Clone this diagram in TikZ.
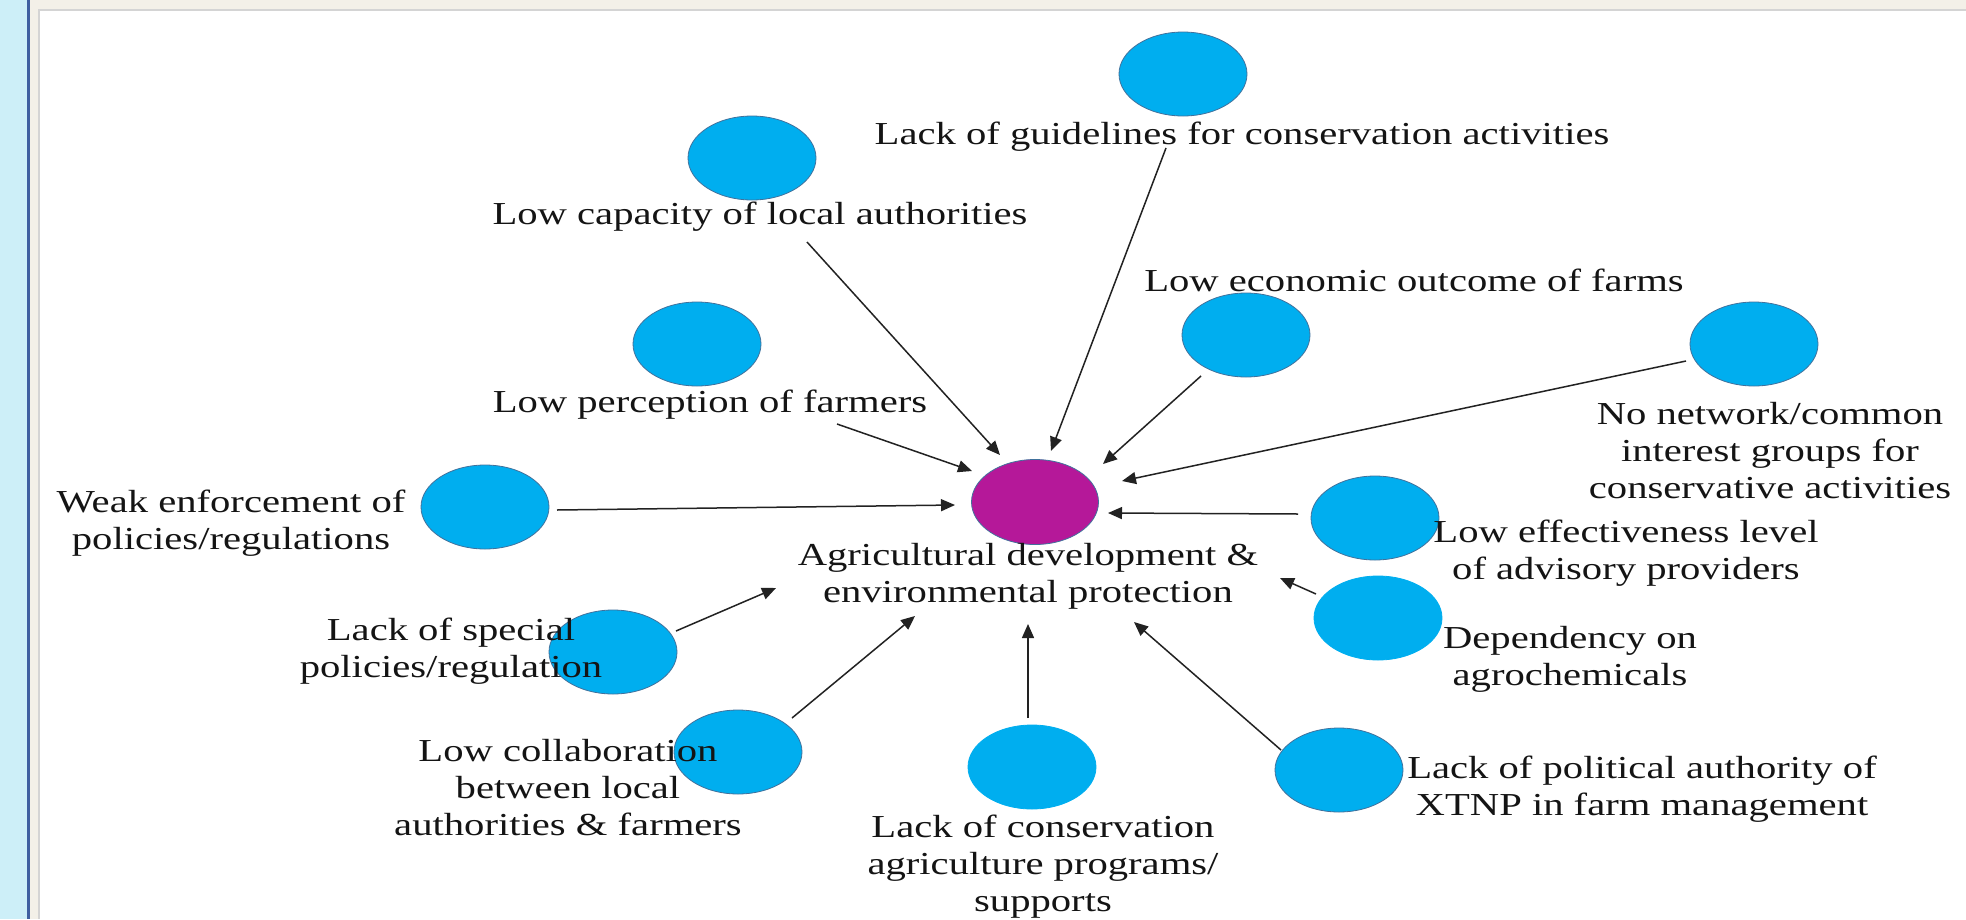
\documentclass[tikz,border=0pt]{standalone}
\usepackage{fontspec}
\setmainfont{Liberation Serif}[FakeStretch=1.27]
\usetikzlibrary{arrows.meta,shapes.geometric}

\definecolor{sidebar}{RGB}{205,239,248}
\definecolor{sideline}{RGB}{63,95,160}
\definecolor{paper}{RGB}{243,240,232}
\definecolor{rim}{RGB}{212,212,212}
\definecolor{bubblefill}{RGB}{0,174,239}
\definecolor{bubbleedge}{RGB}{65,113,156}
\definecolor{corefill}{RGB}{181,24,153}
\definecolor{ink}{RGB}{20,20,20}
\definecolor{arrowink}{RGB}{34,34,34}

\begin{document}
\begin{tikzpicture}[x=1pt,y=-1pt,
  bubble/.style={ellipse, minimum width=128pt, minimum height=84pt, inner sep=0pt,
    fill=bubblefill, draw=bubbleedge, line width=0.8pt},
  softbubble/.style={bubble, draw=bubblefill},
  core/.style={bubble, minimum width=127pt, minimum height=85pt, fill=corefill},
  caption/.style={align=center, inner sep=0pt, text=ink,
    font=\fontsize{32}{37}\selectfont},
  cause/.style={-{Triangle[length=14pt,width=12pt]}, line width=1.5pt, draw=arrowink}]

% page frame
\useasboundingbox (0,0) rectangle (1966,919);
\fill[sidebar] (0,0) rectangle (27,919);
\fill[sideline] (27,0) rectangle (30,919);
\fill[paper] (30,0) rectangle (1966,919);
\fill[rim] (38,9) rectangle (1966,919);
\fill[white] (40,11) rectangle (1966,919);

% bubbles
\node[core] (c) at (1035,502) {};
\node[bubble] (g1) at (1183,74) {};
\node[bubble] (g2) at (752,158) {};
\node[bubble] (g3) at (697,344) {};
\node[bubble] (g4) at (485,507) {};
\node[bubble] (g5) at (613,652) {};
\node[bubble] (g6) at (738,752) {};
\node[softbubble] (g7) at (1032,767) {};
\node[bubble] (g8) at (1339,770) {};
\node[softbubble] (g9) at (1378,618) {};
\node[bubble] (g10) at (1375,518) {};
\node[bubble] (g11) at (1754,344) {};
\node[bubble] (g12) at (1246,335) {};

% captions
\node[caption] (l1) at (1242,137) {Lack of guidelines for conservation activities};
\node[caption] (l2) at (760,217) {Low capacity of local authorities};
\node[caption] (l12) at (1414,280) {Low economic outcome of farms};
\node[caption] (l3) at (710,405) {Low perception of farmers};
\node[caption] (l11) at (1770,451) {No network/common\\interest groups for\\conservative activities};
\node[caption] (l4) at (231,523) {Weak enforcement of\\policies/regulations};
\node[caption] (lc) at (1028,576) {Agricultural development \&\\environmental protection};
\node[caption] (l10) at (1626,553) {Low effectiveness level\\of advisory providers};
\node[caption] (l5) at (451,651) {Lack of special\\policies/regulation};
\node[caption] (l9) at (1570,659) {Dependency on\\agrochemicals};
\node[caption] (l6) at (568,788) {Low collaboration\\between local\\authorities \& farmers};
\node[caption] (l7) at (1043,867) {Lack of conservation\\agriculture programs/\\supports};
\node[caption] (l8) at (1642,789) {Lack of political authority of\\XTNP in farm management};

% arrow ends
\coordinate (t1) at (1166,148);  \coordinate (h1) at (1051,451);
\coordinate (t2) at (807,242);   \coordinate (h2) at (1000,455);
\coordinate (t12) at (1201,376); \coordinate (h12) at (1103,464);
\coordinate (t11) at (1686,361); \coordinate (h11) at (1122,481);
\coordinate (t3) at (837,424);   \coordinate (h3) at (972,471);
\coordinate (t4) at (557,510);   \coordinate (h4) at (955,505);
\coordinate (t10) at (1298,514); \coordinate (h10) at (1108,513);
\coordinate (t9) at (1316,594);  \coordinate (h9) at (1280,578);
\coordinate (t5) at (676,631);   \coordinate (h5) at (776,588);
\coordinate (t6) at (792,718);   \coordinate (h6) at (915,616);
\coordinate (t7) at (1028,718);  \coordinate (h7) at (1028,624);
\coordinate (t8) at (1281,750);  \coordinate (h8) at (1134,622);

% causal arrows
\foreach \k in {1,2,3,4,5,6,7,8,9,10,11,12}
  \draw[cause] (t\k) -- (h\k);
\end{tikzpicture}
\end{document}
